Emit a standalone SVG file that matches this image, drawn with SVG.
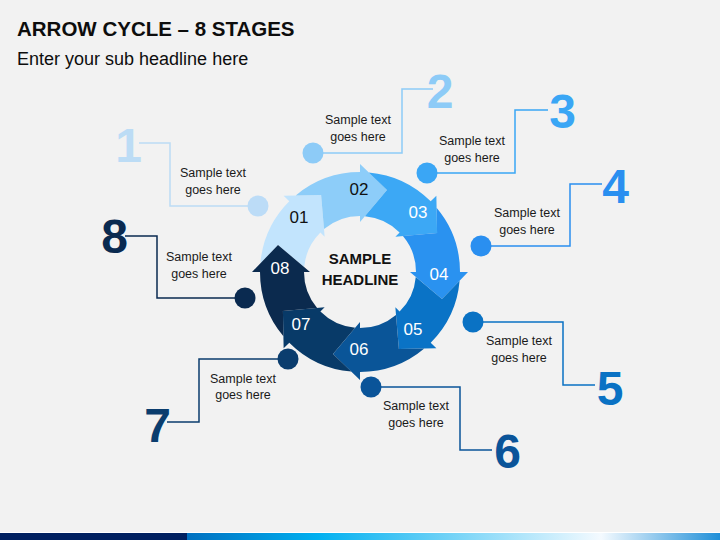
<svg xmlns="http://www.w3.org/2000/svg" width="720" height="540" viewBox="0 0 720 540">
  <defs>
    <style>
      .title { font-family: "Liberation Sans", Arial, sans-serif; font-weight: bold; font-size: 20.5px; fill: #0d0d0d; }
      .sub { font-family: "Liberation Sans", Arial, sans-serif; font-size: 18px; fill: #0d0d0d; }
      .center { font-family: "Liberation Sans", Arial, sans-serif; font-weight: bold; font-size: 15px; fill: #111111; text-anchor: middle; }
      .lbl { font-family: "Liberation Sans", Arial, sans-serif; font-size: 17px; text-anchor: middle; }
      .big { font-family: "Liberation Sans", Arial, sans-serif; font-weight: bold; font-size: 48px; text-anchor: middle; }
      .desc { font-family: "Liberation Sans", Arial, sans-serif; font-size: 12.5px; fill: #1a1a1a; text-anchor: middle; }
      .lead { fill: none; stroke-width: 1.5; }
    </style>
    <path id="seg" d="M -64.29 -76.59 A 100 100 0 0 1 0 -100 L 0 -108 L 27 -82 L 0 -50 L 0 -56 A 56 56 0 0 0 -36.00 -42.90 L -38.89 -77.07 Z"/>
    <linearGradient id="barGrad" gradientUnits="userSpaceOnUse" x1="187" y1="0" x2="720" y2="0">
      <stop offset="0" stop-color="#0070c0"/>
      <stop offset="0.244" stop-color="#00b0f0"/>
      <stop offset="0.777" stop-color="#f4faff"/>
      <stop offset="1" stop-color="#1f8fd8"/>
    </linearGradient>
  </defs>

  <rect x="0" y="0" width="720" height="540" fill="#f2f2f2"/>

  <text class="title" x="17" y="36">ARROW CYCLE – 8 STAGES</text>
  <text class="sub" x="17" y="65">Enter your sub headline here</text>

  <g id="connectors">
    <polyline class="lead" stroke="#bcdcf5" points="139,143 170,143 170,206 258,206"/>
    <polyline class="lead" stroke="#8dcbf7" points="433,89 402,89 402,153 313,153"/>
    <polyline class="lead" stroke="#3aa6f5" points="548,110 515,110 515,173 427,173"/>
    <polyline class="lead" stroke="#2a8ff0" points="602,184 570,184 570,246 481,246"/>
    <polyline class="lead" stroke="#0a72c4" points="473,322 563,322 563,385 595,385"/>
    <polyline class="lead" stroke="#0a5499" points="371,387 460,387 460,450 492,450"/>
    <polyline class="lead" stroke="#0b3d6e" points="288,359 199,359 199,422 167,422"/>
    <polyline class="lead" stroke="#0a2a50" points="125,236 157,236 157,298 245,298"/>
  </g>

  <g id="stage-1">
    <use href="#seg" fill="#c2e4fd" transform="translate(360,272) rotate(315)"/>
    <text class="lbl" x="299" y="223" fill="#111111">01</text>
    <circle cx="258" cy="206" r="10.5" fill="#bcdcf7"/>
    <text class="big" x="128.5" y="162" fill="#bcdcf5">1</text>
    <text class="desc" x="213" y="177">Sample text</text>
    <text class="desc" x="213" y="194">goes here</text>
  </g>

  <g id="stage-2">
    <use href="#seg" fill="#8dcdf9" transform="translate(360,272) rotate(0)"/>
    <text class="lbl" x="359" y="195" fill="#111111">02</text>
    <circle cx="313" cy="153" r="10.5" fill="#8dcbf7"/>
    <text class="big" x="440" y="108" fill="#8dcbf7">2</text>
    <text class="desc" x="358" y="124">Sample text</text>
    <text class="desc" x="358" y="141">goes here</text>
  </g>

  <g id="stage-3">
    <use href="#seg" fill="#3ca8f5" transform="translate(360,272) rotate(45)"/>
    <text class="lbl" x="418" y="218" fill="#ffffff">03</text>
    <circle cx="427" cy="173" r="10.5" fill="#3aa6f5"/>
    <text class="big" x="562.5" y="128" fill="#3aa6f5">3</text>
    <text class="desc" x="472" y="145">Sample text</text>
    <text class="desc" x="472" y="162">goes here</text>
  </g>

  <g id="stage-4">
    <use href="#seg" fill="#2a92f0" transform="translate(360,272) rotate(90)"/>
    <text class="lbl" x="439" y="280" fill="#ffffff">04</text>
    <circle cx="481" cy="246" r="10.5" fill="#2a8ff0"/>
    <text class="big" x="615.5" y="203" fill="#2a8ff0">4</text>
    <text class="desc" x="527" y="217">Sample text</text>
    <text class="desc" x="527" y="234">goes here</text>
  </g>

  <g id="stage-5">
    <use href="#seg" fill="#0a73c6" transform="translate(360,272) rotate(135)"/>
    <text class="lbl" x="413" y="335" fill="#ffffff">05</text>
    <circle cx="473" cy="322" r="10.5" fill="#0a72c4"/>
    <text class="big" x="610" y="405" fill="#0a72c4">5</text>
    <text class="desc" x="519" y="345">Sample text</text>
    <text class="desc" x="519" y="362">goes here</text>
  </g>

  <g id="stage-6">
    <use href="#seg" fill="#0a5598" transform="translate(360,272) rotate(180)"/>
    <text class="lbl" x="359" y="355" fill="#ffffff">06</text>
    <circle cx="371" cy="387" r="10.5" fill="#0a5499"/>
    <text class="big" x="507.5" y="468" fill="#0a5499">6</text>
    <text class="desc" x="416" y="410">Sample text</text>
    <text class="desc" x="416" y="427">goes here</text>
  </g>

  <g id="stage-7">
    <use href="#seg" fill="#083a68" transform="translate(360,272) rotate(225)"/>
    <text class="lbl" x="301" y="330" fill="#ffffff">07</text>
    <circle cx="288" cy="359" r="10.5" fill="#0b3d6e"/>
    <text class="big" x="157.5" y="442" fill="#0b3d6e">7</text>
    <text class="desc" x="243" y="383">Sample text</text>
    <text class="desc" x="243" y="399">goes here</text>
  </g>

  <g id="stage-8">
    <use href="#seg" fill="#0b2a4e" transform="translate(360,272) rotate(270)"/>
    <text class="lbl" x="280" y="274" fill="#ffffff">08</text>
    <circle cx="245" cy="298" r="10.5" fill="#0a2a50"/>
    <text class="big" x="114.5" y="253" fill="#0a2a50">8</text>
    <text class="desc" x="199" y="261">Sample text</text>
    <text class="desc" x="199" y="278">goes here</text>
  </g>

  <g id="center">
    <text class="center" x="360" y="264">SAMPLE</text>
    <text class="center" x="360" y="285">HEADLINE</text>
  </g>

  <g id="bottom-bar">
    <rect x="0" y="532" width="720" height="1" fill="#ffffff"/>
    <rect x="0" y="533" width="187" height="7" fill="#002060"/>
    <rect x="187" y="533" width="533" height="7" fill="url(#barGrad)"/>
  </g>
</svg>
